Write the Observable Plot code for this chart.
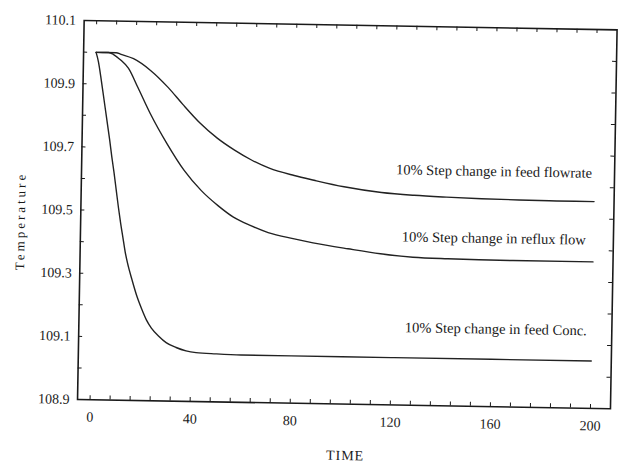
<!DOCTYPE html>
<html>
<head>
<meta charset="utf-8">
<script src="https://cdn.jsdelivr.net/npm/d3@7"></script>
<script src="https://cdn.jsdelivr.net/npm/@observablehq/plot@0.6"></script>
<style>
  html, body { margin: 0; padding: 0; background: #fff; }
  #chart svg { display: block; transform: rotate(1deg); transform-origin: 50% 50%; }
</style>
</head>
<body>
<div id="chart"></div>
<script>
// ---- data ----
const seriesNames = [
  "10% Step change in feed flowrate",
  "10% Step change in reflux flow",
  "10% Step change in feed Conc."
];

const timeFeedFlowrate = [0, 8, 10, 15, 22, 29, 35, 42, 49, 56, 63, 70, 80, 88, 100, 115, 128, 141, 155, 170, 185, 200];
const tempFeedFlowrate = [110.0, 110.0, 109.995, 109.982, 109.945, 109.893, 109.84, 109.782, 109.735, 109.698, 109.667, 109.643, 109.621, 109.607, 109.588, 109.572, 109.565, 109.561, 109.558, 109.556, 109.555, 109.555];

const timeReflux = [0, 5, 7, 10, 13, 17, 22, 29, 36, 43, 50, 56, 63, 70, 80, 88, 102, 115, 128, 142, 168, 200];
const tempReflux = [110.0, 110.0, 109.994, 109.976, 109.952, 109.89, 109.81, 109.714, 109.631, 109.568, 109.52, 109.486, 109.46, 109.439, 109.421, 109.409, 109.392, 109.378, 109.369, 109.366, 109.364, 109.364];

const timeFeedConc = [0, 1, 2, 3, 4, 5, 6, 7, 8, 9, 10, 11, 12, 13, 14, 16, 18, 20, 22, 24, 27, 30, 34, 38, 42, 50, 60, 80, 120, 160, 200];
const tempFeedConc = [110.0, 109.97, 109.925, 109.875, 109.825, 109.775, 109.725, 109.67, 109.62, 109.565, 109.51, 109.46, 109.415, 109.37, 109.335, 109.28, 109.23, 109.19, 109.155, 109.13, 109.105, 109.085, 109.07, 109.06, 109.055, 109.052, 109.05, 109.05, 109.05, 109.05, 109.05];

const labelTime = [199, 197, 198];
const labelTemp = [109.645, 109.433, 109.146];

const xTickLabels = [0, 40, 80, 120, 160, 200];
const yTickLabels = [108.9, 109.1, 109.3, 109.5, 109.7, 109.9, 110.1];
const xMinorTicks = [0, 8, 16, 24, 32, 40, 48, 56, 64, 72, 80, 88, 96, 104, 112, 120, 128, 136, 144, 152, 160, 168, 176, 184, 192, 200];
const yMinorTicks = [109.0, 109.1, 109.2, 109.3, 109.4, 109.5, 109.6, 109.7, 109.8, 109.9, 110.0];

// ---- build table ----
const rows = [];
[[timeFeedFlowrate, tempFeedFlowrate], [timeReflux, tempReflux], [timeFeedConc, tempFeedConc]]
  .forEach(([ts, vs], i) => ts.forEach((t, j) => rows.push({series: seriesNames[i], t, v: vs[j]})));
const labels = seriesNames.map((s, i) => ({text: s, t: labelTime[i], v: labelTemp[i]}));

const W = 618, H = 464;
const mL = 80, mR = 5, mT = 24, mB = 61;
const fw = W - mL - mR, fh = H - mT - mB;
const ink = "#1a1a1a";
const serif = "'Liberation Serif', 'Times New Roman', serif";

const chart = Plot.plot({
  width: W,
  height: H,
  marginLeft: mL,
  marginRight: mR,
  marginTop: mT,
  marginBottom: mB,
  style: {fontFamily: serif, fontSize: "14px", background: "#fff", color: ink},
  x: {domain: [-5, 208], label: null},
  y: {domain: [108.9, 110.1], label: null},
  marks: [
    // inward minor ticks on all four sides
    Plot.tickY(yMinorTicks, {y: d => d, insetRight: fw - 4, stroke: ink, strokeWidth: 1}),
    Plot.tickY(yMinorTicks, {y: d => d, insetLeft: fw - 4, stroke: ink, strokeWidth: 1}),
    Plot.tickX(xMinorTicks, {x: d => d, insetTop: fh - 4, stroke: ink, strokeWidth: 1}),
    Plot.tickX(xMinorTicks, {x: d => d, insetBottom: fh - 4, stroke: ink, strokeWidth: 1}),
    Plot.frame({stroke: ink, strokeWidth: 1.6}),
    Plot.axisX(xTickLabels, {tickSize: 0, tickPadding: 12, tickFormat: d => String(d), fontSize: 14, fontFamily: serif, fill: ink, label: null}),
    Plot.axisY(yTickLabels, {tickSize: 0, tickPadding: 8, tickFormat: d => d.toFixed(1), fontSize: 14, fontFamily: serif, fill: ink, label: null}),
    Plot.line(rows, {x: "t", y: "v", z: "series", curve: "monotone-x", stroke: "#222", strokeWidth: 1.4}),
    Plot.text(labels, {x: "t", y: "v", text: "text", textAnchor: "end", lineAnchor: "middle", fontSize: 14.5, fontFamily: serif, fill: ink}),
    Plot.text(["TIME"], {frameAnchor: "bottom", textAnchor: "middle", lineAnchor: "bottom", dx: 2, dy: 56, fontSize: 14, fontFamily: serif, fill: ink}),
    Plot.text(["Temperature"], {frameAnchor: "left", textAnchor: "middle", lineAnchor: "middle", rotate: -90, dx: -60, dy: 12, fontSize: 13, fontFamily: serif, fill: ink})
  ]
});

d3.select(chart).selectAll("text")
  .filter(function() { return this.textContent === "Temperature"; })
  .attr("letter-spacing", "3px");
d3.select(chart).selectAll("text")
  .filter(function() { return this.textContent === "TIME"; })
  .attr("letter-spacing", "1px");

document.getElementById("chart").appendChild(chart);
</script>
</body>
</html>
